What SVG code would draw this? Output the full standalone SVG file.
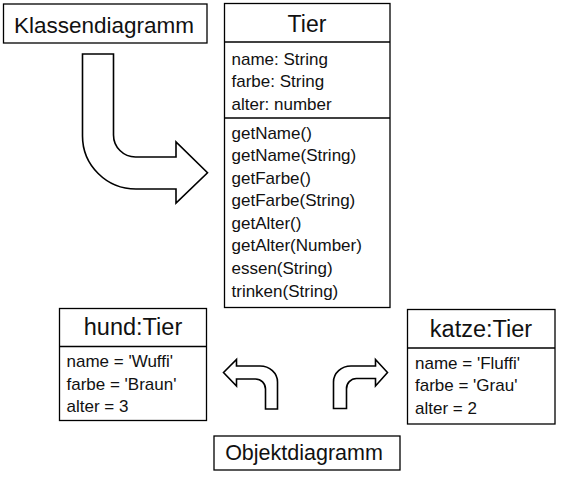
<svg xmlns="http://www.w3.org/2000/svg" width="561" height="477" viewBox="0 0 561 477">
<style>
.box{fill:#fff;stroke:#000;stroke-width:1.3}
.div{stroke:#000;stroke-width:1.5}
.arrow{fill:#fff;stroke:#000;stroke-width:1.6;stroke-linejoin:miter}
text{font-family:"Liberation Sans",Arial,sans-serif;fill:#111}
.t{font-size:23px;text-anchor:middle}
.a{font-size:17px}
</style>
<rect width="561" height="477" fill="#fff"/>
<g id="klassendiagramm">
<rect class="box" x="3.5" y="4" width="203.5" height="39"/>
<text x="104" y="33" style="font-size:22.5px;text-anchor:middle">Klassendiagramm</text>
</g>
<g id="tier">
<rect class="box" x="224.5" y="3.5" width="165.5" height="304"/>
<line class="div" x1="224.5" y1="42" x2="390" y2="42"/>
<line class="div" x1="224.5" y1="118" x2="390" y2="118"/>
<text class="t" x="307" y="31.5">Tier</text>
<text class="a" x="231.5" y="64.5">name: String</text>
<text class="a" x="231.5" y="87">farbe: String</text>
<text class="a" x="231.5" y="109.5">alter: number</text>
<text class="a" x="231.5" y="138.5">getName()</text>
<text class="a" x="231.5" y="161">getName(String)</text>
<text class="a" x="231.5" y="183.6">getFarbe()</text>
<text class="a" x="231.5" y="206.2">getFarbe(String)</text>
<text class="a" x="231.5" y="228.8">getAlter()</text>
<text class="a" x="231.5" y="251.4">getAlter(Number)</text>
<text class="a" x="231.5" y="274">essen(String)</text>
<text class="a" x="231.5" y="296.6">trinken(String)</text>
</g>
<g id="hund">
<rect class="box" x="59.5" y="308.5" width="147" height="112"/>
<line class="div" x1="59.5" y1="346.5" x2="206.5" y2="346.5"/>
<text class="t" x="133" y="335" style="font-size:23.5px">hund:Tier</text>
<text class="a" x="66.5" y="367">name = 'Wuffi'</text>
<text class="a" x="66.5" y="389.5">farbe = 'Braun'</text>
<text class="a" x="66.5" y="412">alter = 3</text>
</g>
<g id="katze">
<rect class="box" x="407.5" y="309.5" width="147.5" height="114.5"/>
<line class="div" x1="407.5" y1="348" x2="555" y2="348"/>
<text class="t" x="481" y="336.5" style="font-size:23.5px">katze:Tier</text>
<text class="a" x="415" y="368.5">name = 'Fluffi'</text>
<text class="a" x="415" y="391">farbe = 'Grau'</text>
<text class="a" x="415" y="413.5">alter = 2</text>
</g>
<g id="objektdiagramm">
<rect class="box" x="214" y="436" width="186" height="34"/>
<text x="304" y="460" style="font-size:21.5px;text-anchor:middle">Objektdiagramm</text>
</g>
<g id="connectors">
<path class="arrow" d="M82.5,54 H113.5 V135 A22,22 0 0 0 135.5,157 H176 V142 L207.5,172.8 L176,203 V189 H136 A53.5,53 0 0 1 82.5,136 Z"/>
<path class="arrow" d="M223.5,372.5 L236.5,359.5 V366 H260 A17.5,16 0 0 1 277.5,382 V409 H265.5 V389 A10,10 0 0 0 255.5,379 H236.5 V386 Z"/>
<path class="arrow" d="M387.5,372.5 L375.5,359.5 V366 H351 A17.5,16 0 0 0 333.5,382 V408.5 H346.5 V389 A10,10 0 0 1 356.5,378.5 H375.5 V386 Z"/>
</g>
</svg>
